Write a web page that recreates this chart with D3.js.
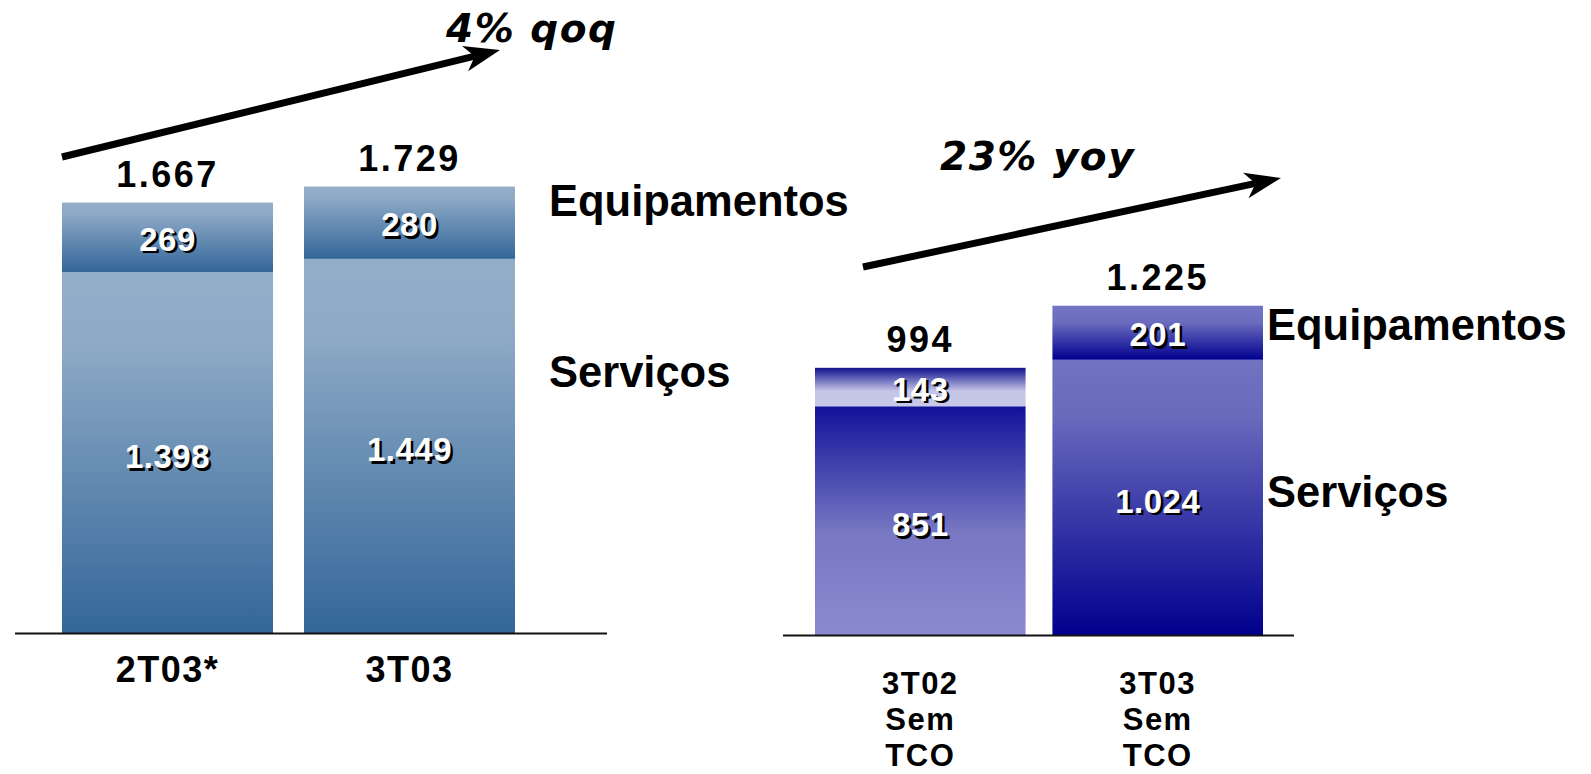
<!DOCTYPE html>
<html>
<head>
<meta charset="utf-8">
<script src="https://cdn.jsdelivr.net/npm/d3@7"></script>
<style>
  html, body { margin: 0; padding: 0; background: #ffffff; }
  svg { display: block; }
</style>
</head>
<body>
<svg id="chart" width="1591" height="774"></svg>
<script>
// ---------- DATA ----------
const categoriesLeft = ["2T03*", "3T03"];
const servicosLeft = [1398, 1449];
const equipamentosLeft = [269, 280];
const totalLeft = [1667, 1729];

const categoriesRight = ["3T02 Sem TCO", "3T03 Sem TCO"];
const servicosRight = [851, 1024];
const equipamentosRight = [143, 201];
const totalRight = [994, 1225];

const seriesNames = ["Serviços", "Equipamentos"];
const growthLabels = ["4% qoq", "23% yoy"];

// ---------- SETUP ----------
const svg = d3.select("#chart");
const defs = svg.append("defs");
const locale = d3.formatLocale({ decimal: ",", thousands: ".", grouping: [3], currency: ["R$", ""] });
const fmt = locale.format(",d");

const FONT = "'Liberation Sans', Arial, sans-serif";
const FONT2 = "'DejaVu Sans', sans-serif";

function gradient(id, stops) {
  const g = defs.append("linearGradient").attr("id", id)
    .attr("x1", 0).attr("y1", 0).attr("x2", 0).attr("y2", 1);
  stops.forEach(s => g.append("stop").attr("offset", s[0]).attr("stop-color", s[1]));
  return "url(#" + id + ")";
}

// gradients
const gLeftEq = gradient("gLeftEq", [[0, "#92aec9"], [0.15, "#8eaac6"], [1, "#336699"]]);
const gLeftSv = gradient("gLeftSv", [[0, "#92aec9"], [0.2, "#8eaac6"], [1, "#336699"]]);
const gR1Eq = gradient("gR1Eq", [[0, "#10108f"], [0.6, "#c4c4e6"], [1, "#c8c8e8"]]);
const gR1Sv = gradient("gR1Sv", [[0, "#12129a"], [0.55, "#7777c2"], [1, "#8a8ad0"]]);
const gR2Eq = gradient("gR2Eq", [[0, "#7474c4"], [0.3, "#6d6dbf"], [1, "#000090"]]);
const gR2Sv = gradient("gR2Sv", [[0, "#7272c2"], [0.2, "#6a6abd"], [1, "#00008e"]]);

function panel(cfg) {
  const g = svg.append("g");
  const x = d3.scaleBand().domain(cfg.categories).range(cfg.xRange)
    .paddingInner(cfg.padInner).paddingOuter(0);
  const y = d3.scaleLinear().domain([0, cfg.yMax]).range(cfg.yRange);

  const rows = cfg.categories.map((c, i) => ({
    cat: c, serv: cfg.serv[i], eq: cfg.eq[i], total: cfg.total[i], i: i
  }));

  // Serviços segments
  g.selectAll("rect.sv").data(rows).enter().append("rect")
    .attr("class", "sv")
    .attr("x", d => x(d.cat)).attr("width", x.bandwidth())
    .attr("y", d => y(d.serv)).attr("height", d => y(0) - y(d.serv))
    .attr("fill", d => cfg.svFill[d.i]);

  // Equipamentos segments
  g.selectAll("rect.eq").data(rows).enter().append("rect")
    .attr("class", "eq")
    .attr("x", d => x(d.cat)).attr("width", x.bandwidth())
    .attr("y", d => y(d.serv + d.eq)).attr("height", d => y(d.serv) - y(d.serv + d.eq))
    .attr("fill", d => cfg.eqFill[d.i]);

  // baseline
  g.append("line")
    .attr("x1", cfg.axisX[0]).attr("x2", cfg.axisX[1])
    .attr("y1", y(0) + 0.5).attr("y2", y(0) + 0.5)
    .attr("stroke", "#111").attr("stroke-width", 2);

  // in-bar labels with shadow
  function inLabel(cls, valFn, yFn) {
    [["#000", 2.5], ["#fff", 0]].forEach(([col, off]) => {
      g.selectAll("text." + cls + (off ? "s" : "")).data(rows).enter().append("text")
        .attr("class", cls + (off ? "s" : ""))
        .attr("x", d => x(d.cat) + x.bandwidth() / 2 + off)
        .attr("y", d => yFn(d) + off)
        .attr("text-anchor", "middle")
        .attr("dominant-baseline", "central")
        .attr("font-family", FONT).attr("font-weight", "bold")
        .attr("font-size", 33).attr("letter-spacing", 0.5)
        .attr("fill", col)
        .text(d => fmt(valFn(d)));
    });
  }
  inLabel("lsv", d => d.serv, d => (y(0) + y(d.serv)) / 2 + 4);
  inLabel("leq", d => d.eq, d => (y(d.serv) + y(d.serv + d.eq)) / 2 + 2);

  // totals
  g.selectAll("text.tot").data(rows).enter().append("text")
    .attr("class", "tot")
    .attr("x", d => x(d.cat) + x.bandwidth() / 2)
    .attr("y", d => y(d.total) - 16)
    .attr("text-anchor", "middle")
    .attr("font-family", FONT).attr("font-weight", "bold")
    .attr("font-size", 36).attr("letter-spacing", 2.5)
    .attr("fill", "#000")
    .text(d => fmt(d.total));

  // category labels (multi-line)
  const cat = g.selectAll("text.cat").data(rows).enter().append("text")
    .attr("class", "cat")
    .attr("text-anchor", "middle")
    .attr("font-family", FONT).attr("font-weight", "bold")
    .attr("font-size", cfg.catSize).attr("letter-spacing", 1.5)
    .attr("fill", "#000");
  cat.each(function (d) {
    const lines = d.cat.split(" ");
    const t = d3.select(this);
    lines.forEach((ln, k) => {
      t.append("tspan")
        .attr("x", x(d.cat) + x.bandwidth() / 2)
        .attr("y", y(0) + cfg.catDy + k * 36)
        .text(ln);
    });
  });

  // series labels
  cfg.seriesPos.forEach((p, k) => {
    g.append("text")
      .attr("x", p[0]).attr("y", p[1])
      .attr("font-family", FONT).attr("font-weight", "bold")
      .attr("font-size", 43.5)
      .attr("fill", "#000")
      .text(seriesNames[k]);
  });

  // growth arrow
  const a = cfg.arrow;
  const ang = Math.atan2(a[3] - a[1], a[2] - a[0]);
  const headLen = 36, headHalf = 13, notch = 10;
  const ux = Math.cos(ang), uy = Math.sin(ang);
  const px = -uy, py = ux;
  const bx = a[2] - ux * headLen, by = a[3] - uy * headLen;
  g.append("line")
    .attr("x1", a[0]).attr("y1", a[1])
    .attr("x2", a[2] - ux * (headLen - notch)).attr("y2", a[3] - uy * (headLen - notch))
    .attr("stroke", "#000").attr("stroke-width", 7);
  const head = [
    [a[2], a[3]],
    [bx + px * headHalf, by + py * headHalf],
    [a[2] - ux * (headLen - notch), a[3] - uy * (headLen - notch)],
    [bx - px * headHalf, by - py * headHalf]
  ];
  g.append("path").attr("d", d3.line()(head) + "Z").attr("fill", "#000");

  g.append("text")
    .attr("x", cfg.growthPos[0]).attr("y", cfg.growthPos[1])
    .attr("font-family", FONT2).attr("font-weight", "bold").attr("font-style", "italic")
    .attr("font-size", 39).attr("letter-spacing", 1.5)
    .attr("fill", "#000")
    .text(cfg.growth);
}

panel({
  categories: categoriesLeft, serv: servicosLeft, eq: equipamentosLeft, total: totalLeft,
  xRange: [62, 515], padInner: 0.128,
  yMax: 1800, yRange: [633, 633 - 1800 * 0.2582],
  axisX: [15, 607],
  svFill: [gLeftSv, gLeftSv], eqFill: [gLeftEq, gLeftEq],
  catDy: 49, catSize: 36,
  seriesPos: [[549, 387], [549, 216]],
  arrow: [62, 157, 500, 50],
  growth: growthLabels[0], growthPos: [446, 42]
});

panel({
  categories: categoriesRight, serv: servicosRight, eq: equipamentosRight, total: totalRight,
  xRange: [815, 1263], padInner: 0.113,
  yMax: 1300, yRange: [635, 635 - 1300 * 0.2688],
  axisX: [783, 1294],
  svFill: [gR1Sv, gR2Sv], eqFill: [gR1Eq, gR2Eq],
  catDy: 59, catSize: 31,
  seriesPos: [[1267, 507], [1267, 340]],
  arrow: [863, 267, 1281, 178],
  growth: growthLabels[1], growthPos: [940, 170]
});
</script>
</body>
</html>
